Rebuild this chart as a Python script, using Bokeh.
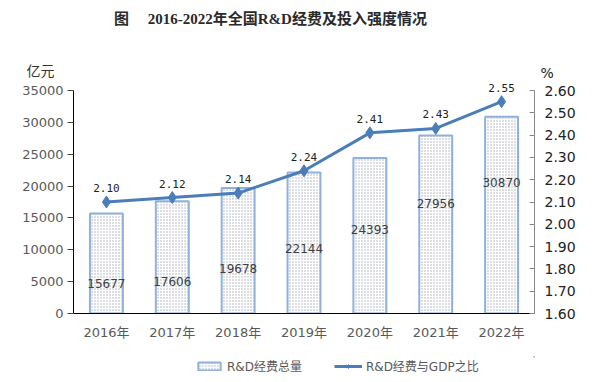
from bokeh.plotting import figure
from bokeh.layouts import column
from bokeh.models import (Range1d, LinearAxis, FixedTicker, ColumnDataSource, LabelSet, Label,
                          Legend, LegendItem, NumeralTickFormatter)
from bokeh.core.properties import value
from bokeh.embed import file_html
from bokeh.resources import INLINE

years = ["2016年", "2017年", "2018年", "2019年", "2020年", "2021年", "2022年"]
rd_spend = [15677, 17606, 19678, 22144, 24393, 27956, 30870]
rd_ratio = [2.10, 2.12, 2.14, 2.24, 2.41, 2.43, 2.55]
ratio_text = ["2.10", "2.12", "2.14", "2.24", "2.41", "2.43", "2.55"]
spend_text = [str(v) for v in rd_spend]
bar_label_y = [4700, 5000, 7050, 10200, 13200, 17300, 20550]
left_ticks = [0, 5000, 10000, 15000, 20000, 25000, 30000, 35000]
right_ticks = [1.6, 1.7, 1.8, 1.9, 2.0, 2.1, 2.2, 2.3, 2.4, 2.5, 2.6]
title_text = "图\u3000 2016-2022年全国R&D经费及投入强度情况"
left_unit = "亿元"
right_unit = "%"
legend_labels = ["R&D经费总量", "R&D经费与GDP之比"]

W, H = 594, 382
TOP_H = 80                          # header strip (title and unit labels)
FL, FR, FT, FB = 73, 534, 90, 313   # axes area in page pixels
AXIS_B = 43                         # space for the x tick labels
LEG_H = H - FB - AXIS_B             # legend strip
YMAX = 35000
RMIN, RMAX = 1.6, 2.6
EXT = (FB - TOP_H) / (FB - FT)      # main frame extends a little above the axis tops

SANS = "DejaVu Sans, Noto Sans CJK SC"
GRAY = "#595959"
LINE = "#4a7dba"
BAR_STYLE = dict(fill_color="white", line_color="#8fb1dc", line_width=2,
                 hatch_pattern="dot", hatch_color="#a9adb8", hatch_scale=3, hatch_weight=1)

# ---------- header strip (page-pixel coordinates) ----------
LEFT_UNIT_Y, RIGHT_UNIT_Y = 70, 72
top = figure(width=W, height=TOP_H, x_range=Range1d(FL, FR), y_range=Range1d(TOP_H, 0),
             output_backend="svg", toolbar_location=None, x_axis_type=None,
             min_border_left=FL, min_border_right=W - FR, min_border_top=0, min_border_bottom=0)
top.outline_line_color = None
top.grid.grid_line_color = None
top.add_layout(Label(x=270, y=18, text=title_text,
                     text_align="center", text_baseline="middle",
                     text_font="Liberation Serif, Noto Sans CJK SC", text_font_style="bold",
                     text_font_size="15px", text_color="#2a2a2a"))

ua = top.yaxis[0]
ua.ticker = FixedTicker(ticks=[LEFT_UNIT_Y])
ua.major_label_overrides = {LEFT_UNIT_Y: left_unit}
ua.axis_line_color = None
ua.major_tick_line_color = None
ua.minor_tick_line_color = None
ua.major_label_text_font = SANS
ua.major_label_text_font_size = "14px"
ua.major_label_text_color = "#333333"
ua.major_label_standoff = 13

ub = LinearAxis(ticker=FixedTicker(ticks=[RIGHT_UNIT_Y]), major_label_overrides={RIGHT_UNIT_Y: right_unit})
ub.axis_line_color = None
ub.major_tick_line_color = None
ub.minor_tick_line_color = None
ub.major_label_text_font = SANS
ub.major_label_text_font_size = "14px"
ub.major_label_text_color = "#222222"
ub.major_label_standoff = 0
top.add_layout(ub, "right")

# ---------- main chart ----------
p = figure(frame_width=FR - FL, frame_height=FB - TOP_H, x_range=years,
           y_range=Range1d(0, YMAX * EXT),
           output_backend="svg", toolbar_location=None,
           min_border_left=FL, min_border_right=W - FR, min_border_top=0, min_border_bottom=AXIS_B)
p.extra_y_ranges = {"pct": Range1d(RMIN, RMIN + (RMAX - RMIN) * EXT)}
p.outline_line_color = None
p.xgrid.grid_line_color = None
p.ygrid.grid_line_color = None

src = ColumnDataSource(dict(x=years, v=rd_spend, r=rd_ratio, rt=ratio_text, st=spend_text, ly=bar_label_y))

p.vbar(x="x", top="v", width=0.5, source=src, **BAR_STYLE)
p.line(x="x", y="r", source=src, y_range_name="pct", line_color=LINE, line_width=3)
p.scatter(x="x", y="r", source=src, y_range_name="pct", marker="diamond", size=12,
          fill_color=LINE, line_color=LINE)

ax = p.yaxis[0]
ax.ticker = FixedTicker(ticks=left_ticks)
ax.bounds = (0, YMAX)
ax.axis_line_color = "black"
ax.major_tick_line_color = "#444444"
ax.major_tick_out = 6
ax.major_tick_in = 0
ax.minor_tick_line_color = None
ax.major_label_text_font = SANS
ax.major_label_text_font_size = "13px"
ax.major_label_text_color = GRAY
ax.major_label_standoff = 4

ra = LinearAxis(y_range_name="pct", ticker=FixedTicker(ticks=right_ticks),
                formatter=NumeralTickFormatter(format="0.00"), bounds=(RMIN, RMAX))
ra.axis_line_color = "#888888"
ra.major_tick_line_color = "#888888"
ra.major_tick_out = 0
ra.major_tick_in = 5
ra.minor_tick_line_color = None
ra.major_label_text_font = SANS
ra.major_label_text_font_size = "14px"
ra.major_label_text_color = "#222222"
ra.major_label_standoff = 10
p.add_layout(ra, "right")

xa = p.xaxis[0]
xa.axis_line_color = "black"
xa.major_tick_line_color = None
xa.minor_tick_line_color = None
xa.major_label_text_font = SANS
xa.major_label_text_font_size = "13px"
xa.major_label_text_color = GRAY
xa.major_label_standoff = 5

p.add_layout(LabelSet(x="x", y="ly", text="st", source=src, text_align="center",
                      text_baseline="middle", text_font=value("DejaVu Sans"), text_font_size="12px",
                      text_color="#404040"))
p.add_layout(LabelSet(x="x", y="r", text="rt", source=src, y_range_name="pct", y_offset=14,
                      text_align="center", text_baseline="middle",
                      text_font=value("DejaVu Sans Mono"), text_font_size="11px", text_color="#222222"))

# ---------- legend strip ----------
# key renderers reuse the ratio series, which lies outside this strip's 0..1 ranges,
# so only their legend glyphs are visible
leg = figure(width=W, height=LEG_H, x_range=Range1d(0, 1), y_range=Range1d(0, 1),
             output_backend="svg", toolbar_location=None, x_axis_type=None, y_axis_type=None,
             min_border_left=FL, min_border_right=W - FR, min_border_top=0, min_border_bottom=0)
leg.outline_line_color = None
leg.grid.grid_line_color = None
kb = leg.vbar(x="r", top="r", bottom="r", width=0.01, source=src, **BAR_STYLE)
kl = leg.line(x="r", y="r", source=src, line_color=LINE, line_width=3)
km = leg.scatter(x="r", y="r", source=src, marker="diamond", size=10, fill_color=LINE, line_color=LINE)

legend = Legend(items=[LegendItem(label=legend_labels[0], renderers=[kb]),
                       LegendItem(label=legend_labels[1], renderers=[kl, km])],
                orientation="horizontal", location=(122, 8),
                border_line_color=None, background_fill_alpha=0,
                label_text_font=SANS, label_text_font_size="12px", label_text_color=GRAY,
                glyph_width=28, glyph_height=10, label_standoff=4, spacing=32,
                padding=1, margin=0)
leg.add_layout(legend)

layout = column(top, p, leg, spacing=0)
open("out.html", "w").write(file_html(layout, INLINE))
